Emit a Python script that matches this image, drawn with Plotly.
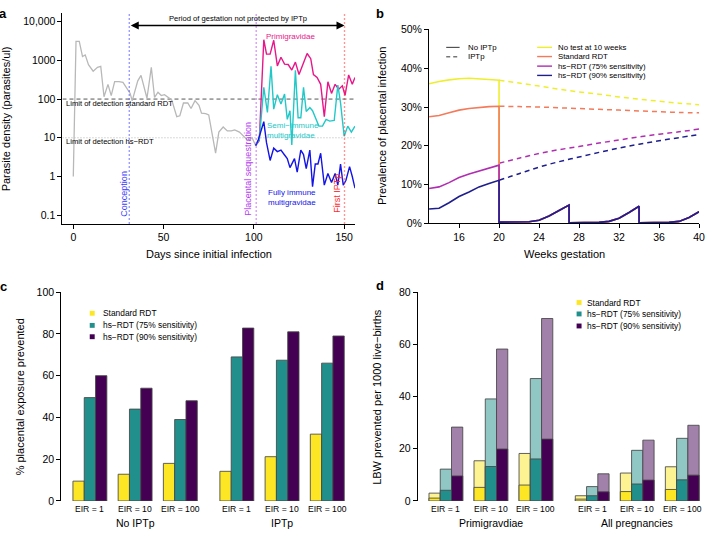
import plotly.graph_objects as go

W, H = 712, 536
def px(x): return x / W
def py(y): return 1 - y / H

FONT = "Liberation Sans, Arial, sans-serif"

# ---------------- Panel a data ----------------
gray_days = [0, 1.5, 3.3, 5.1, 6.6, 8.4, 11, 13.4, 15.2, 17, 19.2, 21, 22.9, 25.3, 27.5, 29.3,
             31.5, 32.6, 35.7, 37.5, 40.8, 43.2, 45, 46.9, 48.7, 50.5, 52.4, 54.5, 57.3, 59, 61,
             63.4, 65.2, 67.4, 69.6, 71, 73.3, 75, 78.8, 80.6, 83, 85.3, 87.5, 89.4, 92, 94.5,
             96.7, 99, 101]
gray_vals = [1, 3100, 3100, 1250, 1380, 770, 525, 660, 700, 115, 240, 123, 283, 283, 270, 200,
             140, 90, 295, 410, 105, 660, 110, 150, 123, 130, 110, 95, 35, 37, 79,
             79, 57, 91, 69, 43, 42, 39, 4, 14, 19, 15, 15, 16, 14, 11,
             8.5, 10, 6.3]

prim_days = [101, 103, 105.5, 107, 109, 111, 113, 115, 117, 119, 121, 123, 125, 127, 129.5,
             131.5, 133, 135, 137, 139, 141, 143, 145, 147, 149, 150.5, 152.5, 154.5, 156]
prim_vals = [6.3, 8.5, 3400, 1450, 1450, 3300, 720, 1200, 800, 780, 560, 900, 430, 780, 1500,
             1100, 430, 360, 240, 35, 280, 140, 240, 180, 220, 125, 420, 240, 360]

semi_days = [101, 103, 105.5, 107.5, 109.5, 111, 113, 115, 117, 118.5, 120, 121, 123, 124.5,
             126, 127.5, 129, 131, 132.5, 134, 136, 138, 140, 142, 144.5, 146.5, 148, 150, 152,
             154, 156]
semi_vals = [6.3, 9, 200, 45, 700, 55, 130, 75, 135, 30, 50, 6.5, 550, 33,
             33, 200, 48, 60, 50, 32, 20, 20, 30, 27, 28, 230, 80, 11, 20,
             14, 20]

full_days = [101, 102.5, 105.5, 107, 109, 111, 113, 115, 117, 118.5, 120, 122.5, 124, 126,
             127.5, 129, 131, 132.5, 134, 135.5, 137, 139, 141, 143, 145, 146.5, 148, 149.5,
             151, 153, 154.5, 156]
full_vals = [6.3, 9, 26, 7.5, 2.6, 5.4, 4.4, 4.8, 3.6, 2.9, 1.7, 2.9, 1.3, 4.8,
             3.7, 1.6, 4.8, 0.55, 2.1, 2.1, 4, 0.6, 1.2, 0.7, 1.2, 0.6, 2.1, 0.6,
             0.8, 1.8, 1.0, 0.5]

a_ytick_vals = [0.1, 1, 10, 100, 1000, 10000]
a_ytick_text = ["0.1", "1", "10", "100", "1000", "10,000"]
a_xticks = [0, 50, 100, 150]
conception_day, sequestration_day, first_iptp_day = 31, 101.3, 150.2
lod_standard, lod_hs = 100, 10

# ---------------- Panel b data ----------------
b_weeks_pre = [13, 14, 15, 16, 17, 18, 19, 20]
b_yellow_pre = [36.0, 36.6, 37.0, 37.3, 37.4, 37.3, 37.1, 36.9]
b_orange_pre = [27.5, 27.8, 28.5, 29.2, 29.6, 29.9, 30.1, 30.2]
b_purple_pre = [9.0, 9.4, 10.5, 11.8, 12.7, 13.5, 14.3, 15.0]
b_blue_pre = [3.7, 3.9, 5.3, 6.9, 8.1, 9.4, 10.3, 11.1]

b_weeks_tail = [20, 21, 22, 23, 24, 25, 26, 27, 27, 28, 29, 30, 31, 32, 33, 34, 34, 35, 36,
                37, 38, 39, 40]
b_tail = [0.3, 0.3, 0.3, 0.4, 0.8, 1.9, 3.3, 4.7, 0.15, 0.15, 0.15, 0.25, 0.5, 1.3, 2.8, 4.4,
          0.15, 0.15, 0.15, 0.25, 0.5, 1.5, 3.0]

b_weeks_post = [20, 22, 24, 26, 28, 30, 32, 34, 36, 38, 40]
b_yellow_post = [36.9, 36.2, 35.4, 34.6, 33.9, 33.3, 32.6, 32.0, 31.5, 31.0, 30.6]
b_orange_post = [30.2, 30.1, 30.0, 29.8, 29.6, 29.4, 29.2, 29.0, 28.8, 28.6, 28.5]
b_purple_post = [15.5, 16.8, 18.0, 19.0, 19.8, 20.7, 21.5, 22.3, 23.0, 23.6, 24.3]
b_blue_post = [11.1, 12.8, 14.5, 15.9, 17.1, 18.3, 19.4, 20.4, 21.3, 22.1, 22.9]
b_xticks = [16, 20, 24, 28, 32, 36, 40]
b_yticks = [0, 10, 20, 30, 40, 50]
b_ytick_text = ["0%", "10%", "20%", "30%", "40%", "50%"]
b_labels = ["No test at 10 weeks", "Standard RDT", "hs−RDT (75% sensitivity)",
            "hs−RDT (90% sensitivity)"]

# ---------------- Panel c / d data ----------------
eir_labels = ["EIR = 1", "EIR = 10", "EIR = 100", "EIR = 1", "EIR = 10", "EIR = 100"]
bar_series = ["Standard RDT", "hs−RDT (75% sensitivity)", "hs−RDT (90% sensitivity)"]
c_groups = ["No IPTp", "IPTp"]
c_standard = [9.5, 12.8, 18, 14.2, 21.2, 32]
c_hs75 = [49.5, 44, 39, 69, 67.4, 66]
c_hs90 = [60, 54, 48, 82.8, 81, 79]

d_groups = ["Primigravdiae", "All pregnancies"]
d_standard_total = [3.0, 15.4, 18.2, 2.0, 10.7, 13.1]
d_standard_low = [1.1, 5.2, 6.1, 0.7, 3.6, 4.4]
d_hs75_total = [12.2, 39.1, 46.9, 5.5, 19.4, 24.0]
d_hs75_low = [4.1, 13.2, 16.1, 2.0, 6.5, 8.1]
d_hs90_total = [28.3, 58.2, 69.9, 10.4, 23.3, 29.0]
d_hs90_low = [9.6, 19.9, 23.7, 3.5, 8.0, 9.9]

# ---------------- styles ----------------
C_GRAY = "#b8b8b8"
C_PRIM = "#e8168a"
C_SEMI = "#22c8c8"
C_FULL = "#1414e6"
C_CONC = "#3a3aff"
C_SEQ = "#b43cf2"
C_RED = "#ff2a2a"
B_COLORS = ["#eeee30", "#f47a5a", "#b02eb0", "#1e1e8c"]
V_COLORS = ["#fde725", "#21908c", "#440154"]
V_LIGHT = ["#fef392", "#90c7c5", "#a180a9"]
EDGE = "rgba(70,70,70,0.85)"

fig = go.Figure()

# ---- Panel a traces
fig.add_trace(go.Scatter(x=[-6, 156], y=[lod_standard] * 2, mode="lines",
                         line=dict(color="#444", width=0.9, dash="4px,3px"),
                         xaxis="x", yaxis="y", hoverinfo="skip"))
fig.add_trace(go.Scatter(x=[-6, 156], y=[lod_hs] * 2, mode="lines",
                         line=dict(color="#aaa", width=0.9, dash="1px,2px"),
                         xaxis="x", yaxis="y", hoverinfo="skip"))
fig.add_trace(go.Scatter(x=gray_days, y=gray_vals, mode="lines",
                         line=dict(color=C_GRAY, width=1.3), xaxis="x", yaxis="y"))
for d, v, c in [(prim_days, prim_vals, C_PRIM), (semi_days, semi_vals, C_SEMI),
                (full_days, full_vals, C_FULL)]:
    fig.add_trace(go.Scatter(x=d, y=v, mode="lines", line=dict(color=c, width=1.4),
                             xaxis="x", yaxis="y"))

shapes = []
for xd, col in [(conception_day, C_CONC), (sequestration_day, C_SEQ), (first_iptp_day, C_RED)]:
    shapes.append(dict(type="line", xref="x", yref="y domain", x0=xd, x1=xd, y0=0, y1=1,
                       line=dict(color=col, width=1.4, dash="1px,3px")))

# ---- Panel b traces
pres = [b_yellow_pre, b_orange_pre, b_purple_pre, b_blue_pre]
posts = [b_yellow_post, b_orange_post, b_purple_post, b_blue_post]
for i in range(4):
    fig.add_trace(go.Scatter(x=b_weeks_post, y=posts[i], mode="lines",
                             line=dict(color=B_COLORS[i], width=1.5, dash="5px,4px", shape="spline"),
                             xaxis="x2", yaxis="y2"))
for i in range(4):
    fig.add_trace(go.Scatter(x=b_weeks_pre + b_weeks_tail, y=pres[i] + b_tail, mode="lines",
                             line=dict(color=B_COLORS[i], width=1.6),
                             xaxis="x2", yaxis="y2"))

# ---- Panel c / d bars
group_starts = [0, 4, 8, 13, 17, 21]
def bar_x(k):
    return [s + k + 0.5 for s in group_starts]

c_vals = [c_standard, c_hs75, c_hs90]
for k in range(3):
    fig.add_trace(go.Bar(x=bar_x(k), y=c_vals[k], width=1,
                         marker=dict(color=V_COLORS[k], line=dict(color=EDGE, width=1)),
                         xaxis="x3", yaxis="y3"))
d_tot = [d_standard_total, d_hs75_total, d_hs90_total]
d_low = [d_standard_low, d_hs75_low, d_hs90_low]
for k in range(3):
    fig.add_trace(go.Bar(x=bar_x(k), y=d_tot[k], width=1,
                         marker=dict(color=V_LIGHT[k], line=dict(color=EDGE, width=1)),
                         xaxis="x4", yaxis="y4"))
    fig.add_trace(go.Bar(x=bar_x(k), y=d_low[k], width=1,
                         marker=dict(color=V_COLORS[k], line=dict(color=EDGE, width=1)),
                         xaxis="x4", yaxis="y4"))

# ---------------- annotations ----------------
ann = []
def text(x, y, s, size=8, color="black", xanchor="center", yanchor="middle", angle=0,
         bold=False, align="left"):
    ann.append(dict(x=px(x), y=py(y), xref="paper", yref="paper", text=(f"<b>{s}</b>" if bold else s),
                    showarrow=False, xanchor=xanchor, yanchor=yanchor, textangle=angle, align=align,
                    font=dict(family=FONT, size=size, color=color)))

# panel labels
text(3.5, 8, "a", 13, bold=True)
text(383, 8, "b", 13, bold=True)
text(3.5, 287, "c", 13, bold=True)
text(383, 286, "d", 13, bold=True)

# panel a
ann.append(dict(x=first_iptp_day, y=py(20), xref="x", yref="paper", ax=conception_day, axref="x",
                ay=0, ayref="pixel", text="", showarrow=True, arrowside="end+start",
                arrowhead=2, arrowsize=1, arrowwidth=1.6, arrowcolor="black"))
text(240, 12.5, "Period of gestation not protected by IPTp", 7.6)
text(65, 99.5, "Limit of detection standard RDT", 7.6, xanchor="left")
text(65, 138.7, "Limit of detection hs−RDT", 7.6, xanchor="left")
text(125, 192, "Conception", 9, C_CONC, angle=-90)
text(250, 166.5, "Placental sequestration", 9, C_SEQ, angle=-90)
text(340, 192, "First IPTp", 9, C_RED, angle=-90)
text(292.7, 31.7, "Primigravidae", 8, C_PRIM)
text(267.5, 127.3, "Semi−immune<br>multigravidae", 8, C_SEMI, xanchor="left")
text(268.3, 195.5, "Fully immune<br>multigravidae", 8, C_FULL, xanchor="left")
text(6, 115, "Parasite density (parasites/ul)", 11, angle=-90)
text(210.7, 253.3, "Days since initial infection", 11)

# panel b
text(385, 123, "Prevalence of placental infection", 11, angle=-90)
text(569, 253.3, "Weeks gestation", 11)
for yy, dash, lab in [(42.3, "solid", "No IPTp"), (52, "4px,3px", "IPTp")]:
    shapes.append(dict(type="line", xref="paper", yref="paper", x0=px(450), x1=px(463.5),
                       y0=py(yy), y1=py(yy), line=dict(color="#333", width=1, dash=dash)))
    text(470, yy, lab, 7.8, xanchor="left")
for i, yy in enumerate([42.3, 51.7, 61.5, 71]):
    shapes.append(dict(type="line", xref="paper", yref="paper", x0=px(541.7), x1=px(556.7),
                       y0=py(yy), y1=py(yy), line=dict(color=B_COLORS[i], width=1.4)))
    text(561, yy, b_labels[i], 7.8, xanchor="left")

# panel c
text(20.5, 400, "% placental exposure prevented", 11, angle=-90)
u_c, x0_c = 11.4, 61.7 + 1.04 * 11.4
u_d, x0_d = 11.35, 421.3 + 1.0 * 11.35
for g in range(6):
    text(x0_c + (group_starts[g] + 1.5) * u_c, 515, eir_labels[g], 8.6)
    text(x0_d + (group_starts[g] + 1.5) * u_d, 515, eir_labels[g], 8.6)
for j, gi in enumerate([1, 4]):
    text(x0_c + (group_starts[gi] + 1.5) * u_c, 528.5, c_groups[j], 10.5)
    text(x0_d + (group_starts[gi] + 1.5) * u_d, 528.5, d_groups[j], 10.5)
for k, yy in enumerate([314.3, 326.7, 338.3]):
    shapes.append(dict(type="rect", xref="paper", yref="paper", x0=px(90.5), x1=px(95.5),
                       y0=py(yy + 2.5), y1=py(yy - 2.5), fillcolor=V_COLORS[k], line=dict(width=0)))
    text(101.5, yy, bar_series[k], 8.4, xanchor="left")

# panel d
text(380, 400, "LBW prevented per 1000 live−births", 11, angle=-90)
for k, yy in enumerate([303.3, 315, 327.3]):
    shapes.append(dict(type="rect", xref="paper", yref="paper", x0=px(581.5), x1=px(586.5),
                       y0=py(yy + 2.5), y1=py(yy - 2.5), fillcolor=V_COLORS[k], line=dict(width=0)))
    text(590, yy, bar_series[k], 8.4, xanchor="left")

# ---------------- axes ----------------
axis_common = dict(showgrid=False, zeroline=False, showline=True, linecolor="black", linewidth=1,
                   ticks="outside", ticklen=4, tickcolor="black", tickwidth=1,
                   tickfont=dict(family=FONT, size=10.5, color="black"))
hidden = dict(showgrid=False, zeroline=False, showline=False, showticklabels=False, ticks="")

fig.update_layout(
    width=W, height=H, autosize=False, margin=dict(l=0, r=0, t=0, b=0),
    paper_bgcolor="white", plot_bgcolor="white", showlegend=False, barmode="overlay",
    font=dict(family=FONT, color="black"),
    xaxis=dict(domain=[px(63), px(358)], range=[-6, 156], tickvals=a_xticks, anchor="y",
               **axis_common),
    yaxis=dict(domain=[py(222.6), py(7.4)], type="log", range=[-1.216, 4.216],
               tickvals=a_ytick_vals, ticktext=a_ytick_text, anchor="x", **axis_common),
    xaxis2=dict(domain=[px(432.7), px(705)], range=[13, 40], tickvals=b_xticks, anchor="y2",
                **axis_common),
    yaxis2=dict(domain=[py(222.3), py(24)], range=[0, 50], tickvals=b_yticks,
                ticktext=b_ytick_text, anchor="x2", **axis_common),
    xaxis3=dict(domain=[px(61.7), px(61.7 + 25.24 * 11.4)], range=[-1.04, 24.2], anchor="y3",
                **hidden),
    yaxis3=dict(domain=[py(506.3), py(292.7)], range=[0, 100], tickvals=[0, 20, 40, 60, 80, 100],
                anchor="x3", **axis_common),
    xaxis4=dict(domain=[px(421.3), px(421.3 + 25.2 * 11.35)], range=[-1.0, 24.2], anchor="y4",
                **hidden),
    yaxis4=dict(domain=[py(506.3), py(292.7)], range=[0, 80], tickvals=[0, 20, 40, 60, 80],
                anchor="x4", **axis_common),
    annotations=ann, shapes=shapes,
)

fig.write_html("out.html", config={"displayModeBar": False},
               post_script="document.body.style.margin='0';document.body.style.overflow='hidden';")
